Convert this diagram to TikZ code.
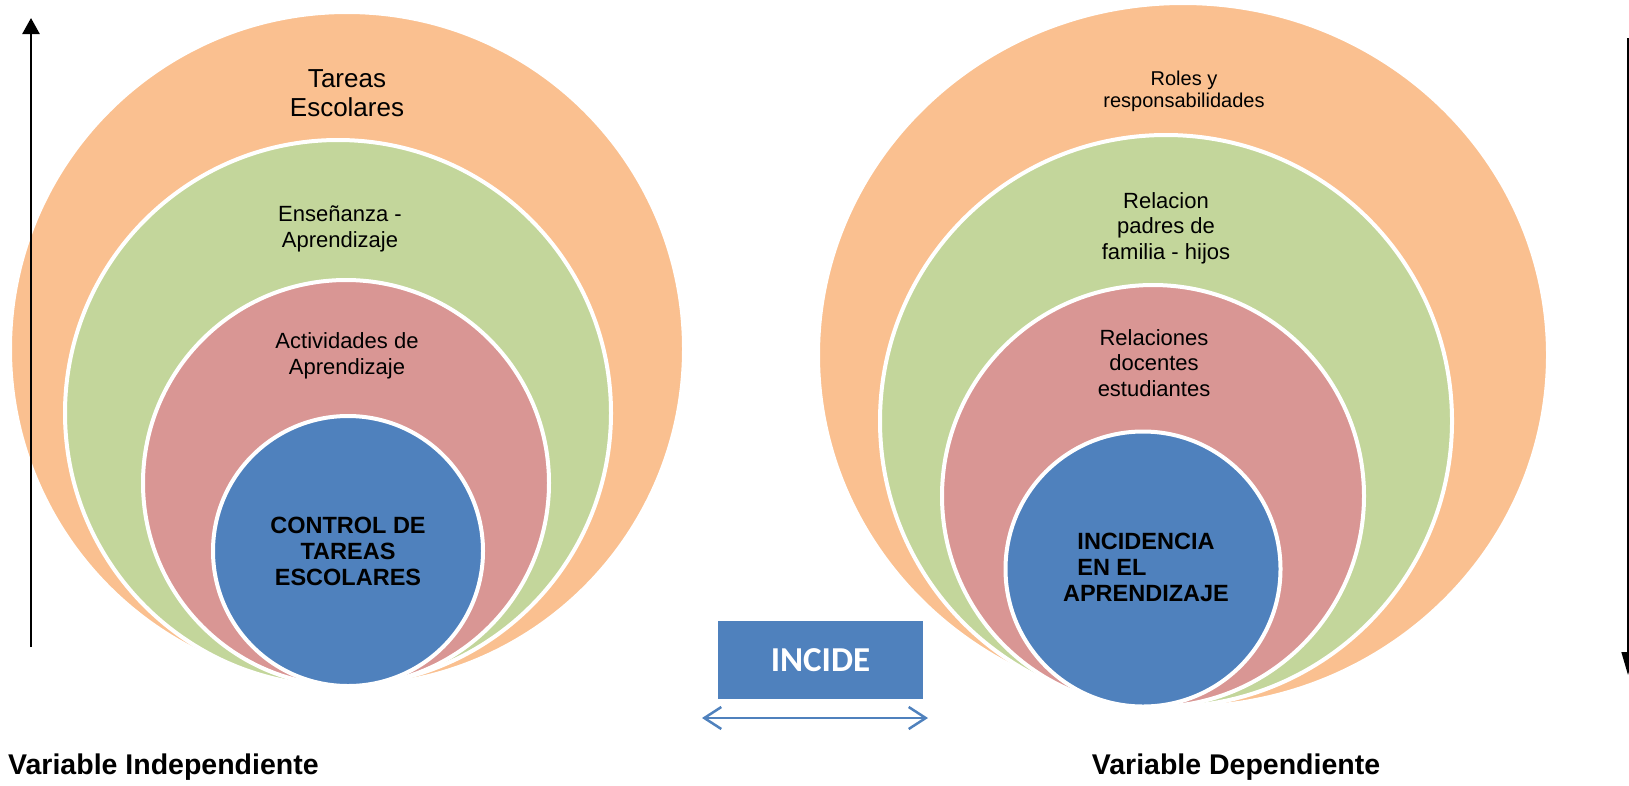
\documentclass[tikz,border=0pt]{standalone}
\usepackage{fontspec}
\setmainfont{Liberation Sans}
\newfontfamily\calib{Carlito}
\usetikzlibrary{arrows.meta}
\definecolor{orng}{HTML}{FAC090}
\definecolor{grn}{HTML}{C3D69B}
\definecolor{rd}{HTML}{D99694}
\definecolor{blu}{HTML}{4F81BD}
\tikzset{
  ring/.style={draw=white, line width=4pt},
  lbl/.style={font=\fontsize{22}{25.5}\selectfont, align=center, inner sep=0pt},
  blbl/.style={font=\bfseries\fontsize{23.5}{26}\selectfont, align=center, inner sep=0pt},
  varlbl/.style={font=\bfseries\fontsize{28.5}{32}\selectfont, inner sep=0pt},
}
\begin{document}
\begin{tikzpicture}[x=1pt,y=-1pt]
\useasboundingbox (0,0) rectangle (1629,785);
% left group
\filldraw[ring, fill=orng] (347,349) circle[radius=337pt];
\filldraw[ring, fill=grn] (338,413) circle[radius=273pt];
\filldraw[ring, fill=rd] (346,483) circle[radius=203pt];
\filldraw[ring, fill=blu] (348,551) circle[radius=135pt];
% right group
\filldraw[ring, fill=orng] (1183,355) ellipse[x radius=365pt, y radius=352pt];
\filldraw[ring, fill=grn] (1166,421) circle[radius=286pt];
\filldraw[ring, fill=rd] (1153,496) circle[radius=211pt];
\filldraw[ring, fill=blu] (1143,569) circle[radius=137.5pt];
% texts left
\node[lbl, font=\fontsize{26}{29}\selectfont] (tareas) at (347,93) {Tareas\\Escolares};
\node[lbl] (ensen) at (340,229) {Enseñanza -\\Aprendizaje};
\node[lbl] (activ) at (347,356) {Actividades de\\Aprendizaje};
\node[blbl] (control) at (348,551) {CONTROL DE\\TAREAS\\ESCOLARES};
% texts right
\node[lbl, font=\fontsize{20}{22}\selectfont] (roles) at (1184,91) {Roles y\\responsabilidades};
\node[lbl] (relacion) at (1166,228) {Relacion\\padres de\\familia - hijos};
\node[lbl] (relaciones) at (1154,363) {Relaciones\\docentes\\estudiantes};
\node[blbl] (incid) at (1146,567) {INCIDENCIA\\EN EL\hbox to 2.9em{}\\APRENDIZAJE};
% incide box
\node[fill=blu, minimum width=205pt, minimum height=78pt, inner sep=0pt, text=white,
      font=\calib\bfseries\fontsize{35}{40}\selectfont] (inc) at (820.5,660) {INCIDE};
\coordinate (da) at (702,718);
\coordinate (db) at (928,718);
\draw[blu, line width=2.5pt, {Straight Barb[length=17pt,width=22pt]}-{Straight Barb[length=17pt,width=22pt]}] (da) -- (db);
% side arrows
\coordinate (la0) at (31,647);
\coordinate (la1) at (31,18);
\draw[line width=2.6pt, -{Triangle[length=16pt,width=17pt]}] (la0) -- (la1);
\coordinate (ra0) at (1628,38);
\coordinate (ra1) at (1628,675);
\draw[line width=1.5pt, -{Triangle[length=23pt,width=13pt]}] (ra0) -- (ra1);
% variable labels
\node[varlbl, anchor=west] (vi) at (8,767) {Variable Independiente};
\node[varlbl] (vd) at (1236,767) {Variable Dependiente};
\end{tikzpicture}
\end{document}
